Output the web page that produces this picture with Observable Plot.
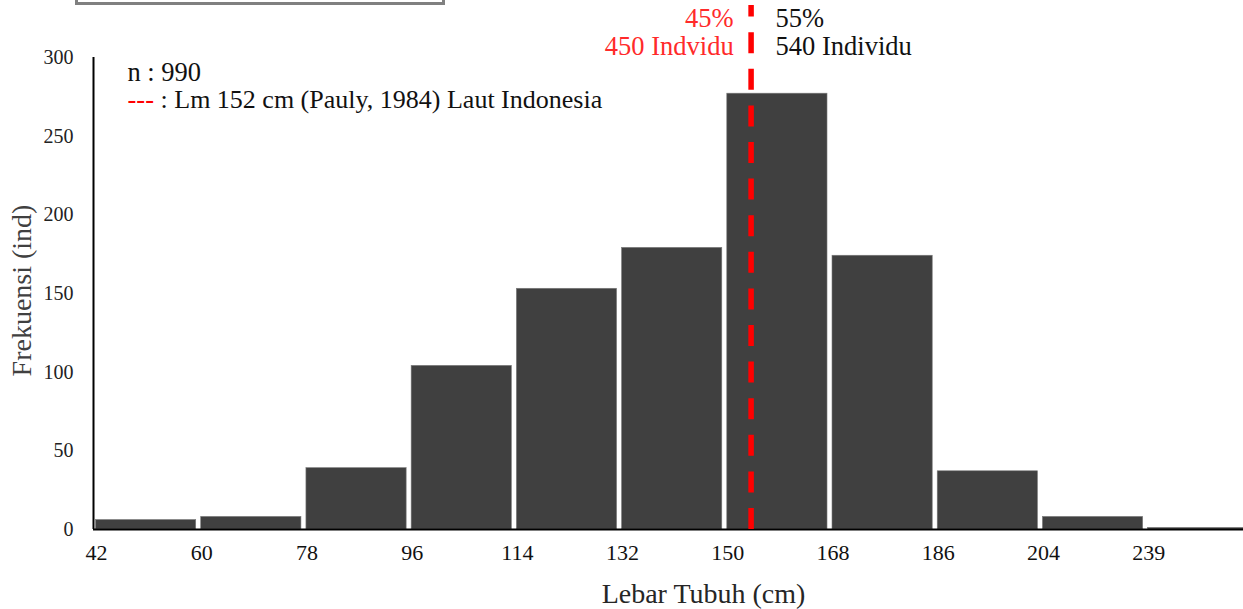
<!DOCTYPE html>
<html>
<head>
<meta charset="utf-8">
<script src="https://cdn.jsdelivr.net/npm/d3@7"></script>
<script src="https://cdn.jsdelivr.net/npm/@observablehq/plot@0.6"></script>
<style>
  body { margin: 0; background: #fff; }
  #wrap { position: relative; width: 1243px; height: 609px; overflow: hidden; background: #fff; }
  #wrap svg { position: absolute; left: 0; top: 0; }
  #box { position: absolute; left: 75px; top: -41px; width: 364px; height: 40px; border: 3px solid #808080; }
</style>
</head>
<body>
<div id="wrap"><div id="box"></div></div>
<script>
// ---- data ----
const classLabels = ["42", "60", "78", "96", "114", "132", "150", "168", "186", "204", "239"];
const frequencies = [6, 8, 39, 104, 153, 179, 277, 174, 37, 8, 1];
const yTicks = [0, 50, 100, 150, 200, 250, 300];
const sampleText = "n : 990";
const lmText = ": Lm 152 cm (Pauly, 1984) Laut Indonesia";
const lmClassPosition = 6.25;           // Lm line position on the class axis (inside the 150 class)
const leftShareLines = ["45%", "450 Indvidu"];
const rightShareLines = ["55%", "540 Individu"];
const xTitle = "Lebar Tubuh (cm)";
const yTitle = "Frekuensi (ind)";

const bins = classLabels.map((label, i) => ({i, label, count: frequencies[i]}));

const serif = "'Liberation Serif', 'Times New Roman', serif";

const chart = Plot.plot({
  width: 1243,
  height: 609,
  marginTop: 57,
  marginBottom: 80,
  marginLeft: 93,
  marginRight: 0,
  style: {fontFamily: serif, background: "transparent", overflow: "visible"},
  x: {domain: [0, 10.93]},
  y: {domain: [0, 300]},
  marks: [
    Plot.rectY(bins, {
      x1: d => d.i, x2: d => d.i + 1, y: "count",
      insetLeft: 2.5, insetRight: 2.5,
      fill: "#404040", stroke: "#7a7a7a", strokeWidth: 0.6
    }),
    Plot.ruleX([0], {stroke: "#000", strokeWidth: 2}),
    Plot.ruleY([0], {stroke: "#000", strokeWidth: 2}),
    Plot.axisY(yTicks, {tickSize: 0, tickPadding: 20, fontSize: 20, fill: "#222", label: null}),
    Plot.axisX(d3.range(classLabels.length), {
      tickSize: 0, tickPadding: 15, dx: 3, fontSize: 22, fill: "#111",
      tickFormat: i => classLabels[i], label: null
    }),
    Plot.ruleX([lmClassPosition], {
      y1: 0, y2: 333, stroke: "#ff0000", strokeWidth: 5.5, strokeDasharray: "21,15.6"
    }),
    // axis titles
    Plot.text([xTitle], {frameAnchor: "bottom", textAnchor: "middle", dx: 35, dy: 65, lineAnchor: "middle", fontSize: 28, fill: "#262626"}),
    Plot.text([yTitle], {frameAnchor: "left", textAnchor: "middle", rotate: -90, dx: -71, dy: -3, lineAnchor: "middle", fontSize: 28, fill: "#404040"}),
    // legend annotations
    Plot.text([sampleText], {x: 0.323, y: 290.5, textAnchor: "start", lineAnchor: "middle", fontSize: 26.5, fill: "#111"}),
    Plot.text(["---"], {x: 0.323, y: 273.3, textAnchor: "start", lineAnchor: "middle", fontSize: 26.5, fill: "#ff0000"}),
    Plot.text([lmText], {x: 0.637, y: 273.3, textAnchor: "start", lineAnchor: "middle", fontSize: 26, fill: "#111"}),
    // share annotations around the Lm line
    Plot.text(leftShareLines, {x: 6.084, y: (d, i) => [324.8, 307][i], textAnchor: "end", lineAnchor: "middle", fontSize: 26.5, fill: "#ff2a2a"}),
    Plot.text(rightShareLines, {x: 6.483, y: (d, i) => [324.8, 307][i], textAnchor: "start", lineAnchor: "middle", fontSize: 26.5, fill: "#111"})
  ]
});

document.getElementById("wrap").prepend(chart);
</script>
</body>
</html>
